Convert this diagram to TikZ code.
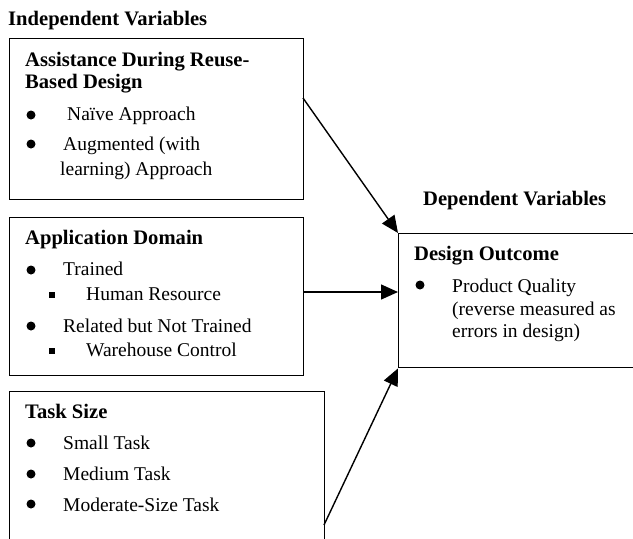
\documentclass[tikz,border=0pt]{standalone}
\usepackage{fontspec}
\setmainfont{Liberation Serif}
\usetikzlibrary{arrows.meta}
\begin{document}
\begin{tikzpicture}[x=1pt,y=-1pt,
  box/.style={draw, line width=1.4pt, rectangle, inner sep=0, anchor=north west},
  txt/.style={anchor=base west, inner sep=0, font=\fontsize{19.5}{22}\selectfont},
  hd/.style={anchor=base west, inner sep=0, font=\fontsize{20.6}{22}\selectfont\bfseries},
  dot/.style={circle, fill, inner sep=0, minimum size=9pt},
  sq/.style={rectangle, fill, inner sep=0, minimum size=5.5pt},
  arr/.style={line width=1.4pt, -{Triangle[length=17pt,width=15pt]}}]
\clip (0,0) rectangle (633,539);
\fill[white] (0,0) rectangle (633,539);
% boxes
\node[box, minimum width=294pt, minimum height=161pt] (b1) at (9,38) {};
\node[box, minimum width=294pt, minimum height=158pt] (b2) at (9,217) {};
\node[box, minimum width=315pt, minimum height=180pt] (b3) at (9,391) {};
\node[box, minimum width=260pt, minimum height=134pt] (do) at (398,233) {};
% headings
\node[hd] (iv) at (8,25) {Independent Variables};
\node[hd] (dv) at (423,205) {Dependent Variables};
% box 1
\node[hd] (t1a) at (25,66) {Assistance During Reuse-};
\node[hd] (t1b) at (25,88) {Based Design};
\node[dot] (d11) at (31,115) {};
\node[txt] (t11) at (67,120) {Naïve Approach};
\node[dot] (d12) at (31,144) {};
\node[txt] (t12a) at (63,150) {Augmented (with};
\node[txt] (t12b) at (60,175) {learning) Approach};
% box 2
\node[hd] (t2) at (25,244) {Application Domain};
\node[dot] (d21) at (31,270) {};
\node[txt] (t21) at (63,275) {Trained};
\node[sq] (s21) at (52,295) {};
\node[txt] (t21s) at (86,300) {Human Resource};
\node[dot] (d22) at (31,326) {};
\node[txt] (t22) at (63,332) {Related but Not Trained};
\node[sq] (s22) at (52,351) {};
\node[txt] (t22s) at (86,356) {Warehouse Control};
% box 3
\node[hd] (t3) at (25,418) {Task Size};
\node[dot] (d31) at (31,443) {};
\node[txt] (t31) at (63,449) {Small Task};
\node[dot] (d32) at (31,474) {};
\node[txt] (t32) at (63,480) {Medium Task};
\node[dot] (d33) at (31,504) {};
\node[txt] (t33) at (63,511) {Moderate-Size Task};
% design outcome
\node[hd] (t4) at (414,260) {Design Outcome};
\node[dot] (d41) at (420,285) {};
\node[txt] (t41a) at (452,292) {Product Quality};
\node[txt] (t41b) at (452,315) {(reverse measured as};
\node[txt] (t41c) at (452,337) {errors in design)};
% connectors
\coordinate (c1) at (303,98);
\coordinate (c2) at (303,292);
\coordinate (c3) at (324,525);
\draw[arr] (c1) -- (do.north west);
\draw[arr] (c2) -- (c2 -| do.west);
\draw[arr] (c3) -- (do.south west);
\end{tikzpicture}
\end{document}
